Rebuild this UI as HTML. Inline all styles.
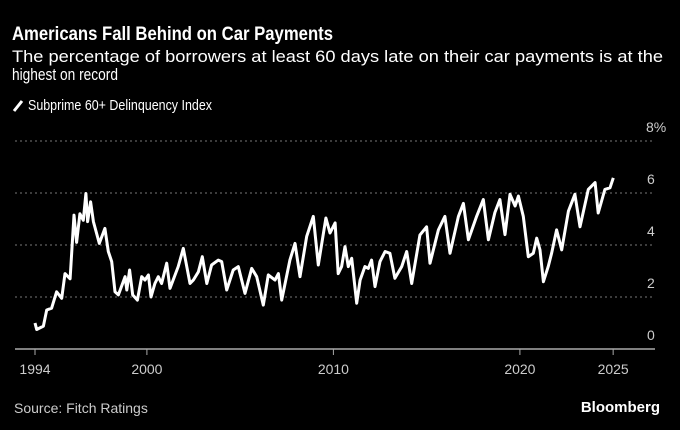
<!DOCTYPE html>
<html><head><meta charset="utf-8"><style>
html,body{margin:0;padding:0;background:#000;}
svg{display:block;font-family:"Liberation Sans",sans-serif;}
</style></head><body>
<svg id="chart" width="680" height="430" viewBox="0 0 680 430">
<rect width="680" height="430" fill="#000"/>
<text x="12" y="40" fill="#fff" font-size="19" font-weight="bold" textLength="321" lengthAdjust="spacingAndGlyphs">Americans Fall Behind on Car Payments</text>
<text x="12" y="62" fill="#fff" font-size="17" textLength="651" lengthAdjust="spacingAndGlyphs">The percentage of borrowers at least 60 days late on their car payments is at the</text>
<text x="12" y="80" fill="#fff" font-size="17" textLength="106" lengthAdjust="spacingAndGlyphs">highest on record</text>
<line x1="14" y1="111" x2="22" y2="101" stroke="#fff" stroke-width="3"/>
<text x="28" y="110" fill="#fff" font-size="15" textLength="184" lengthAdjust="spacingAndGlyphs">Subprime 60+ Delinquency Index</text>
<g id="grid"></g>
<g id="axes"></g>
<path id="series" fill="none" stroke="#fff" stroke-width="3" stroke-linejoin="round"/>
<text x="14" y="413" fill="#ccc" font-size="14">Source: Fitch Ratings</text>
<text x="660" y="412" fill="#fff" font-size="15" font-weight="bold" text-anchor="end">Bloomberg</text>
</svg>
<script>
const years=[1994.0,1994.09,1994.45,1994.63,1994.89,1995.16,1995.43,1995.61,1995.88,1996.09,1996.23,1996.41,1996.59,1996.73,1996.82,1996.98,1997.13,1997.45,1997.75,1997.93,1998.11,1998.29,1998.47,1998.83,1998.92,1999.07,1999.24,1999.49,1999.72,1999.9,2000.08,2000.22,2000.43,2000.61,2000.79,2001.06,2001.24,2001.68,2001.95,2002.31,2002.49,2002.76,2002.97,2003.21,2003.47,2003.83,2004.01,2004.28,2004.63,2004.9,2005.26,2005.62,2005.89,2006.24,2006.51,2006.87,2007.05,2007.23,2007.67,2007.94,2008.21,2008.57,2008.92,2009.19,2009.6,2009.82,2010.09,2010.26,2010.44,2010.62,2010.8,2010.98,2011.25,2011.43,2011.69,2011.87,2012.05,2012.23,2012.5,2012.77,2013.03,2013.3,2013.66,2013.93,2014.2,2014.64,2015.0,2015.18,2015.63,2015.98,2016.25,2016.7,2016.97,2017.24,2017.68,2018.04,2018.31,2018.66,2018.93,2019.2,2019.47,2019.74,2019.92,2020.18,2020.45,2020.72,2020.9,2021.08,2021.26,2021.52,2021.7,2021.97,2022.24,2022.6,2022.95,2023.22,2023.67,2024.03,2024.2,2024.56,2024.83,2025.01];
const values=[1.0,0.75,0.88,1.5,1.57,2.2,1.95,2.9,2.7,5.15,4.1,5.2,4.95,5.98,4.9,5.66,4.9,4.06,4.64,3.75,3.36,2.2,2.08,2.78,2.27,3.04,2.08,1.88,2.78,2.65,2.85,2.0,2.52,2.78,2.52,3.3,2.33,3.17,3.87,2.52,2.65,2.97,3.55,2.52,3.23,3.42,3.36,2.27,3.04,3.17,2.14,3.1,2.78,1.69,2.85,2.65,2.9,1.88,3.42,4.06,2.78,4.33,5.1,3.23,5.04,4.46,4.85,2.9,3.17,3.94,3.17,3.49,1.76,2.65,3.17,3.1,3.42,2.4,3.36,3.75,3.68,2.72,3.17,3.75,2.52,4.38,4.7,3.3,4.58,5.1,3.68,5.1,5.6,4.2,5.1,5.75,4.2,5.25,5.75,4.4,5.95,5.5,5.88,5.1,3.55,3.68,4.26,3.81,2.59,3.17,3.68,4.58,3.81,5.3,5.95,4.7,6.14,6.4,5.23,6.14,6.2,6.58];
const yTicks=[0,2,4,6,8];
const yTickLabels=["0","2","4","6","8%"];
const xTicks=[1994,2000,2010,2020,2025];
const xTickLabels=["1994","2000","2010","2020","2025"];

const NS="http://www.w3.org/2000/svg";
const X=y=>35+(y-1994)*18.65;
const Y=v=>349-v*26;
const grid=document.getElementById('grid'),axes=document.getElementById('axes');
yTicks.forEach((t,i)=>{
  if(t!==0){
    const l=document.createElementNS(NS,'line');
    l.setAttribute('x1',15);l.setAttribute('x2',655);
    l.setAttribute('y1',Y(t));l.setAttribute('y2',Y(t));
    l.setAttribute('stroke','#777');l.setAttribute('stroke-width','1');l.setAttribute('stroke-dasharray','2,3');
    
    
    grid.appendChild(l);
  }
  const tx=document.createElementNS(NS,'text');
  tx.setAttribute('x',i===4?646:647);tx.setAttribute('y',Y(t)-9);
  tx.setAttribute('fill','#ccc');tx.setAttribute('font-size','14');
  tx.textContent=yTickLabels[i];
  
  
  axes.appendChild(tx);
});
const ax=document.createElementNS(NS,'line');
ax.setAttribute('x1',15);ax.setAttribute('x2',655);ax.setAttribute('y1',349);ax.setAttribute('y2',349);
ax.setAttribute('stroke','#aaa');ax.setAttribute('stroke-width','1.5');


axes.appendChild(ax);
xTicks.forEach((t,i)=>{
  const l=document.createElementNS(NS,'line');
  l.setAttribute('x1',X(t));l.setAttribute('x2',X(t));l.setAttribute('y1',349);l.setAttribute('y2',355);
  l.setAttribute('stroke','#aaa');
  
  
  axes.appendChild(l);
  const tx=document.createElementNS(NS,'text');
  tx.setAttribute('x',X(t));tx.setAttribute('y',374);tx.setAttribute('text-anchor','middle');
  tx.setAttribute('fill','#ccc');tx.setAttribute('font-size','14');
  tx.textContent=xTickLabels[i];
  
  
  axes.appendChild(tx);
});
document.getElementById('series').setAttribute('d',years.map((y,i)=>(i?'L':'M')+X(y).toFixed(1)+','+Y(values[i]).toFixed(1)).join(''));
</script>
</body></html>
